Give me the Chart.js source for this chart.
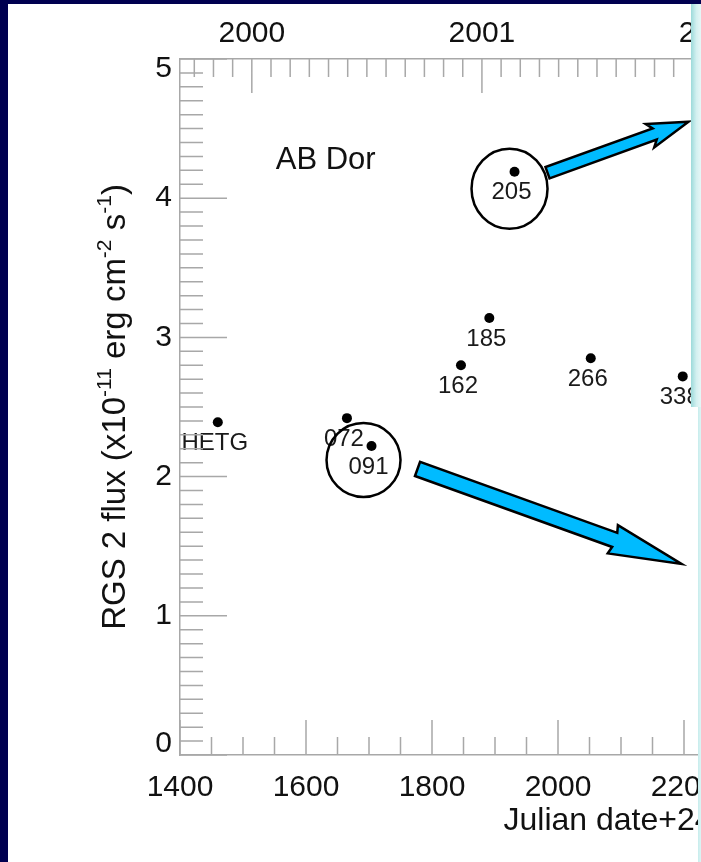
<!DOCTYPE html>
<html lang="en">
<head>
<meta charset="UTF-8">
<title>AB Dor RGS 2 flux</title>
<script src="https://cdn.jsdelivr.net/npm/chart.js"></script>
<style>
    html, body { margin: 0; padding: 0; width: 701px; height: 862px; overflow: hidden; background: #000050; }
    .sheet { position: absolute; left: 8px; top: 4px; width: 1300px; height: 900px; background: #fff; }
    #chart { position: absolute; left: 0; top: 0; }
    .panel { position: absolute; left: 691px; top: 4px; width: 12px; height: 403px;
             background: linear-gradient(to right, #9cdada, #d3f0f0 45%, #eefafa); }
    .strip { position: absolute; left: 698px; top: 407px; width: 5px; height: 460px;
             background: linear-gradient(to right, #c6ecec, #eefafa); }
</style>
</head>
<body>
<div class="sheet"></div>
<canvas id="chart" width="1260" height="862"></canvas>
<div class="panel"></div>
<div class="strip"></div>
<script>
// RGS 2 flux of AB Dor per observation (date = Julian date - 2450000)
const obsNames = ["HETG", "072", "091", "162", "185", "205", "266", "338"];
const obsDates = [1460, 1665, 1704, 1846, 1891, 1931, 2052, 2198];
const obsFlux  = [2.39, 2.42, 2.22, 2.80, 3.14, 4.19, 2.85, 2.72];

// axes
const xMin = 1400, xMax = 2900, xMinorStep = 50, xLabelStep = 200;
const yMin = 0, yMax = 5, yMinorStep = 0.1;
const yearZeroDate = 1514;   // where 2000.0 sits on the date axis
const yearLabels = [2000, 2001, 2002, 2003];

const FONT = '"Liberation Sans", Arial, Helvetica, sans-serif';
Chart.defaults.font.family = FONT;
Chart.defaults.color = '#111';

const dateToYear = d => 2000 + (d - yearZeroDate) / 365.25;

// circles and arrows drawn over the plot, placed relative to a point
const callouts = [
    { name: "205", dx: -5, dy: 17, rx: 38, ry: 40,
      tail: [33, 1], tip: [174, -50], shaft: 6, head: 12.5, headLen: 36, back: 5 },
    { name: "091", dx: -8, dy: 14, rx: 37, ry: 37,
      tail: [46, 23], tip: [310, 118], shaft: 7.5, head: 15, headLen: 71, back: 2 }
];

function isWhole(v, step) {
    const k = v / step;
    return Math.abs(k - Math.round(k)) < 1e-6;
}

function stepTicks(scale, lo, hi, step) {
    const ticks = [];
    for (let k = Math.ceil(lo / step - 1e-9); k * step <= hi + 1e-9; k++) {
        ticks.push({ value: +(k * step).toFixed(6) });
    }
    scale.ticks = ticks;
}

// end labels of the y axis sit inside the axis range
const yEndLabels = {
    id: 'yEndLabels',
    beforeDraw(chart) {
        chart.scales.y.getLabelItems().forEach(item => {
            if (item.label === String(yMax)) item.options.translation[1] += 10;
            if (item.label === String(yMin)) item.options.translation[1] -= 11;
        });
    }
};

// inward tick marks, long on labelled values
const tickMarks = {
    id: 'tickMarks',
    afterDraw(chart) {
        const { ctx, chartArea: a, scales } = chart;
        ctx.save();
        ctx.strokeStyle = '#a8a8a8';
        ctx.lineWidth = 1.5;
        ctx.beginPath();
        scales.y.ticks.forEach(t => {
            const y = scales.y.getPixelForValue(t.value);
            const len = isWhole(t.value, 1) ? 47 : 23;
            ctx.moveTo(a.left, y); ctx.lineTo(a.left + len, y);
        });
        scales.x.ticks.forEach(t => {
            const x = scales.x.getPixelForValue(t.value);
            const len = isWhole(t.value, xLabelStep) ? 35 : 18;
            ctx.moveTo(x, a.bottom); ctx.lineTo(x, a.bottom - len);
        });
        scales.x2.ticks.forEach(t => {
            const x = scales.x2.getPixelForValue(t.value);
            const len = isWhole(t.value, 1) ? 34 : 18;
            ctx.moveTo(x, a.top); ctx.lineTo(x, a.top + len);
        });
        ctx.stroke();
        ctx.restore();
    }
};

// observation names under each point, plus the star name
const pointLabels = {
    id: 'pointLabels',
    afterDatasetsDraw(chart) {
        const { ctx } = chart;
        const pts = chart.getDatasetMeta(0).data;
        ctx.save();
        ctx.fillStyle = '#1a1a1a';
        ctx.font = '24px ' + FONT;
        ctx.textAlign = 'center';
        ctx.textBaseline = 'middle';
        pts.forEach((p, i) => ctx.fillText(obsNames[i], p.x - 3, p.y + 21));
        ctx.font = '31px ' + FONT;
        ctx.textAlign = 'left';
        ctx.fillStyle = '#111';
        ctx.fillText('AB Dor', chart.scales.x.getPixelForValue(1552), chart.scales.y.getPixelForValue(4.27));
        ctx.restore();
    }
};

// y title with superscripts
const yTitle = {
    id: 'yTitle',
    afterDraw(chart) {
        const { ctx, chartArea: a } = chart;
        const parts = [["RGS 2 flux (x10", 0], ["-11", 1], [" erg cm", 0], ["-2", 1], [" s", 0], ["-1", 1], [")", 0]];
        const main = '33px ' + FONT, sup = '21px ' + FONT;
        ctx.save();
        ctx.fillStyle = '#111';
        ctx.textBaseline = 'middle';
        let total = 0;
        parts.forEach(([s, up]) => { ctx.font = up ? sup : main; total += ctx.measureText(s).width; });
        ctx.translate(116, (a.top + a.bottom) / 2);
        ctx.rotate(-Math.PI / 2);
        let x = -total / 2;
        parts.forEach(([s, up]) => {
            ctx.font = up ? sup : main;
            ctx.fillText(s, x, up ? -11 : 0);
            x += ctx.measureText(s).width;
        });
        ctx.restore();
    }
};

function drawArrow(ctx, tx, ty, px, py, c) {
    const L = Math.hypot(px - tx, py - ty);
    const ux = (px - tx) / L, uy = (py - ty) / L;
    const nx = -uy, ny = ux;
    const bx = px - ux * c.headLen, by = py - uy * c.headLen;
    const cx = bx - ux * c.back, cy = by - uy * c.back;
    ctx.beginPath();
    ctx.moveTo(tx + nx * c.shaft, ty + ny * c.shaft);
    ctx.lineTo(bx + nx * c.shaft, by + ny * c.shaft);
    ctx.lineTo(cx + nx * c.head, cy + ny * c.head);
    ctx.lineTo(px, py);
    ctx.lineTo(cx - nx * c.head, cy - ny * c.head);
    ctx.lineTo(bx - nx * c.shaft, by - ny * c.shaft);
    ctx.lineTo(tx - nx * c.shaft, ty - ny * c.shaft);
    ctx.closePath();
    ctx.fillStyle = '#00bbff';
    ctx.fill();
    ctx.stroke();
}

const calloutPlugin = {
    id: 'callouts',
    afterDraw(chart) {
        const { ctx } = chart;
        const pts = chart.getDatasetMeta(0).data;
        ctx.save();
        ctx.strokeStyle = '#000';
        ctx.lineWidth = 2.5;
        ctx.lineJoin = 'miter';
        callouts.forEach(c => {
            const p = pts[obsNames.indexOf(c.name)];
            ctx.beginPath();
            ctx.ellipse(p.x + c.dx, p.y + c.dy, c.rx, c.ry, 0, 0, Math.PI * 2);
            ctx.stroke();
            drawArrow(ctx, p.x + c.tail[0], p.y + c.tail[1], p.x + c.tip[0], p.y + c.tip[1], c);
        });
        ctx.restore();
    }
};

const axisBorder = { display: true, color: '#a8a8a8', width: 1.5 };

new Chart(document.getElementById('chart'), {
    type: 'scatter',
    data: {
        datasets: [{
            data: obsDates.map((d, i) => ({ x: d, y: obsFlux[i] })),
            backgroundColor: '#000',
            borderWidth: 0,
            pointRadius: 5
        }]
    },
    options: {
        responsive: false,
        animation: false,
        layout: { padding: { left: 0, top: 0, right: 135, bottom: 0 } },
        plugins: { legend: { display: false }, tooltip: { enabled: false } },
        scales: {
            x: {
                type: 'linear', position: 'bottom', min: xMin, max: xMax,
                afterBuildTicks: s => stepTicks(s, xMin, xMax, xMinorStep),
                afterFit: s => { s.height = 107; },
                grid: { display: false, drawTicks: false },
                border: axisBorder,
                ticks: {
                    autoSkip: false, maxRotation: 0, minRotation: 0, padding: 15,
                    font: { size: 30 },
                    callback: v => isWhole(v, xLabelStep) ? String(v) : ''
                },
                title: {
                    display: true, text: 'Julian date+2450000',
                    font: { size: 32 }, padding: { top: 0, bottom: 22 }
                }
            },
            x2: {
                type: 'linear', position: 'top',
                min: dateToYear(xMin), max: dateToYear(xMax),
                afterBuildTicks: s => stepTicks(s, s.min, s.max, 1 / 12),
                afterFit: s => { s.height = 59; },
                grid: { display: false, drawTicks: false },
                border: axisBorder,
                ticks: {
                    autoSkip: false, maxRotation: 0, minRotation: 0, padding: 7,
                    font: { size: 30 },
                    callback: v => {
                        const y = yearLabels.find(yl => Math.abs(yl - v) < 1e-6);
                        return y === undefined ? '' : String(y);
                    }
                }
            },
            y: {
                type: 'linear', min: yMin, max: yMax,
                afterBuildTicks: s => stepTicks(s, yMin, yMax, yMinorStep),
                afterFit: s => { s.width = 180; },
                grid: { display: false, drawTicks: false },
                border: axisBorder,
                ticks: {
                    autoSkip: false, padding: 8,
                    font: { size: 30 },
                    callback: v => isWhole(v, 1) ? String(Math.round(v)) : ''
                }
            }
        }
    },
    plugins: [yEndLabels, tickMarks, pointLabels, yTitle, calloutPlugin]
});
</script>
</body>
</html>
